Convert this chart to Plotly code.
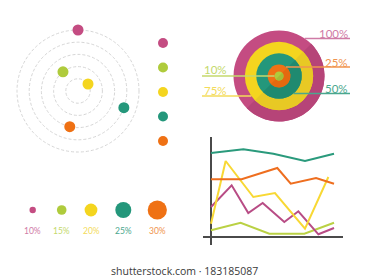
import numpy as np
import plotly.graph_objects as go

# ---------------- data ----------------
keys = ["magenta", "lime", "yellow", "teal", "orange"]

# orbit diagram: which ring each dot sits on, and its angle (deg)
orbit_ring = [5, 2, 1, 4, 3]
orbit_angle = [90, 128, 35, -20, -103]
orbit_rings = [1, 2, 3, 4, 5]

# target (bullseye)
target_keys = ["magenta", "yellow", "teal", "orange", "lime"]
target_values = [100, 75, 50, 25, 10]
target_labels = ["100%", "75%", "50%", "25%", "10%"]

# size row
size_keys = ["magenta", "lime", "yellow", "teal", "orange"]
size_values = [10, 15, 20, 25, 30]
size_labels = ["10%", "15%", "20%", "25%", "30%"]

# line chart
teal_x = [0, 2.63, 5.07, 7.64, 10]
teal_y = [84, 87.7, 83.3, 76, 83.3]
orange_x = [0, 2.49, 5.39, 6.48, 8.54, 10]
orange_y = [57.7, 57.7, 69, 53.3, 59, 53.3]
yellow_x = [0, 1.19, 3.44, 5.2, 7.64, 9.54]
yellow_y = [13.3, 76, 40, 44, 8.3, 60]
magenta_x = [0, 1.68, 3.03, 4.2, 5.96, 7.1, 8.73, 10]
magenta_y = [30, 51.7, 24, 34, 15, 25.7, 2.7, 9]
lime_x = [0, 2.41, 4.74, 7.59, 10]
lime_y = [6.7, 14.3, 3.3, 3.3, 14.3]

watermark = "shutterstock.com · 183185087"

# ---------------- styles ----------------
COL = {"magenta": "#C44C82", "lime": "#AFCB3C", "yellow": "#F4D51F",
       "teal": "#24977B", "orange": "#EF7114"}
DARK = {"magenta": "#B64478", "lime": "#A3BE35", "yellow": "#E8C924",
        "teal": "#1F8A70", "orange": "#E4690F"}
LIGHT = {"magenta": "#CF7BA6", "lime": "#C4D96C", "yellow": "#F3DB5A",
         "teal": "#4AA78E", "orange": "#F0944E"}
LINECOL = {"magenta": "#B84C85", "lime": "#BAD144", "yellow": "#F8D834",
           "teal": "#2A9A7C", "orange": "#EE6E1F"}
FONT = "Lato"

fig = go.Figure()

# ---------- orbit (polar) ----------
fig.add_trace(go.Scatterpolar(
    r=orbit_ring, theta=orbit_angle, mode="markers",
    marker=dict(size=11, color=[COL[k] for k in keys], opacity=1),
    showlegend=False, hoverinfo="skip", subplot="polar"))

# ---------- legend column ----------
col_x, col_y0, col_dy = 163, 43, 24.5
fig.add_trace(go.Scatter(
    x=[col_x] * len(keys), y=[col_y0 + i * col_dy for i in range(len(keys))],
    mode="markers", marker=dict(size=10, color=[COL[k] for k in keys], opacity=1),
    showlegend=False, hoverinfo="skip", cliponaxis=False))

# ---------- target ----------
cx, cy, rmax = 279, 76, 45.5
for k, v in zip(target_keys, target_values):
    r = rmax * v / 100
    fig.add_trace(go.Scatter(
        x=[cx], y=[cy], mode="markers",
        marker=dict(size=2 * r, color=COL[k], line=dict(width=0), opacity=1),
        showlegend=False, hoverinfo="skip", cliponaxis=False))
    a = np.radians(np.linspace(-135, 45, 60))
    fig.add_trace(go.Scatter(
        x=cx + r * np.cos(a), y=cy - r * np.sin(a), mode="lines",
        fill="toself", fillcolor=DARK[k], line=dict(width=0),
        showlegend=False, hoverinfo="skip", cliponaxis=False))

# leader lines + labels
label_side = {"100%": ("right", 33, 38.5), "25%": ("right", 62, 67),
              "50%": ("right", 88, 93.5), "10%": ("left", 69, 76),
              "75%": ("left", 90, 96)}
for k, v, lab in zip(target_keys, target_values, target_labels):
    side, ty, ly = label_side[lab]
    r = rmax * v / 100
    dy = ly - cy
    half = np.sqrt(max(r * r - dy * dy, 0))
    if side == "right":
        x0, x1, tx, anc = cx + half, 350, 350, "right"
    else:
        x0, x1, tx, anc = 202, cx - half, 202, "left"
    fig.add_shape(type="line", x0=x0, x1=x1, y0=ly, y1=ly, xref="x", yref="y",
                  line=dict(color=LIGHT[k], width=1.3), layer="above")
    fig.add_annotation(x=tx, y=ty, text=lab, showarrow=False, xref="x", yref="y",
                       xanchor=anc, yanchor="middle",
                       font=dict(family=FONT, size=11.5, color=LIGHT[k]))

# ---------- size row ----------
size_pos = [32.7, 61.7, 91, 123.3, 157.3]
fig.add_trace(go.Scatter(
    x=size_pos, y=[210] * len(size_values), mode="markers",
    marker=dict(size=[0.64 * v for v in size_values],
                color=[COL[k] for k in size_keys], opacity=1,
                line=dict(width=0)),
    showlegend=False, hoverinfo="skip", cliponaxis=False))
for xp, lab, k in zip(size_pos, size_labels, size_keys):
    fig.add_annotation(x=xp, y=231, text=lab, showarrow=False, xref="x", yref="y",
                       font=dict(family=FONT, size=8.5, color=LIGHT[k]))

# ---------- line chart ----------
for k, xs, ys in [("lime", lime_x, lime_y), ("magenta", magenta_x, magenta_y),
                  ("yellow", yellow_x, yellow_y), ("orange", orange_x, orange_y),
                  ("teal", teal_x, teal_y)]:
    fig.add_trace(go.Scatter(x=xs, y=ys, mode="lines",
                             line=dict(color=LINECOL[k], width=2),
                             xaxis="x2", yaxis="y2", showlegend=False,
                             hoverinfo="skip"))

# ---------- watermark ----------
fig.add_annotation(x=184, y=271, text=watermark, showarrow=False, xref="x", yref="y",
                   font=dict(family="Open Sans", size=10.5, color="#3a3a3a"))

W, H = 368, 280
ocx, ocy, unit, rng = 78, 91, 12.2, 5.3
orad = unit * rng
fig.update_layout(
    width=W, height=H, margin=dict(l=0, r=0, t=0, b=0),
    paper_bgcolor="white", plot_bgcolor="rgba(0,0,0,0)", showlegend=False,
    xaxis=dict(range=[0, W], domain=[0, 1], visible=False, fixedrange=True),
    yaxis=dict(range=[H, 0], domain=[0, 1], visible=False, fixedrange=True),
    xaxis2=dict(domain=[203 / W, 343 / W], range=[-0.65, 10.73], anchor="y2",
                showgrid=False, showticklabels=False, ticks="", showline=False,
                zeroline=True, zerolinecolor="#4a4a4a", zerolinewidth=1.5),
    yaxis2=dict(domain=[35 / H, 143 / H], range=[-8, 100], anchor="x2",
                showgrid=False, showticklabels=False, ticks="", showline=False,
                zeroline=True, zerolinecolor="#4a4a4a", zerolinewidth=1.5),
    polar=dict(
        domain=dict(x=[(ocx - orad) / W, (ocx + orad) / W],
                    y=[(H - ocy - orad) / H, (H - ocy + orad) / H]),
        bgcolor="rgba(0,0,0,0)",
        radialaxis=dict(range=[0, rng], tickvals=orbit_rings, showticklabels=False,
                        ticks="", showline=False, gridcolor="#d6d6d6",
                        griddash="3px,2px", gridwidth=1),
        angularaxis=dict(showgrid=False, showline=False, showticklabels=False,
                         ticks="", rotation=0, direction="counterclockwise")),
)

fig.write_html("out.html")
